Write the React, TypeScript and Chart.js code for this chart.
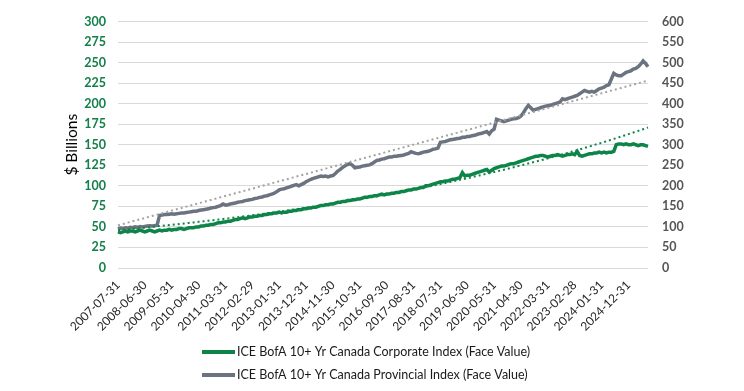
import { useEffect, useRef } from "react";
import { Chart, registerables } from "chart.js";

Chart.register(...registerables);

// Monthly month-end dates from 2007-07 to 2025-08
const startYear = 2007;
const startMonth = 7;
const monthCount = 218;

function buildCategories(): string[] {
  const out: string[] = [];
  for (let k = 0; k < monthCount; k++) {
    const m0 = startMonth - 1 + k;
    const y = startYear + Math.floor(m0 / 12);
    const m = (m0 % 12) + 1;
    const d = new Date(y, m, 0).getDate();
    out.push(`${y}-${String(m).padStart(2, "0")}-${String(d).padStart(2, "0")}`);
  }
  return out;
}
const categories = buildCategories();

const tickLabels = [
  "2007-07-31", "2008-06-30", "2009-05-31", "2010-04-30", "2011-03-31", "2012-02-29",
  "2013-01-31", "2013-12-31", "2014-11-30", "2015-10-31", "2016-09-30", "2017-08-31",
  "2018-07-31", "2019-06-30", "2020-05-31", "2021-04-30", "2022-03-31", "2023-02-28",
  "2024-01-31", "2024-12-31",
];

// ICE BofA 10+ Yr Canada Corporate Index (Face Value), $ billions (left axis)
const corporate = [
  44, 43, 44, 45, 44, 45,
  45, 44, 45, 46, 45, 44, 45, 46, 45, 44, 45, 46,
  45, 46, 46, 47, 46, 47, 47, 48, 48, 47, 48, 49,
  49, 49, 50, 50, 51, 51, 52, 52, 53, 53, 54, 55,
  55, 56, 56, 57, 57, 58, 59, 59, 60, 61, 60, 61,
  62, 62, 63, 63, 64, 64, 65, 65, 66, 66, 67, 67,
  68, 67, 68, 68, 69, 69, 70, 70, 71, 71, 72, 72,
  73, 73, 74, 74, 75, 76, 76, 77, 77, 78, 78, 79,
  80, 80, 81, 81, 82, 82, 83, 83, 84, 84, 85, 86,
  86, 87, 87, 88, 88, 89, 90, 89, 90, 90, 91, 91,
  92, 92, 93, 93, 94, 95, 95, 96, 96, 97, 98, 98,
  100, 100, 101, 102, 103, 104, 105, 105, 106, 106, 107, 108,
  108, 109, 110, 116, 112, 113, 113, 114, 115, 116, 117, 118,
  119, 120, 117, 119, 121, 122, 123, 124, 124, 125, 126, 127,
  127, 128, 129, 130, 131, 132, 133, 134, 135, 136, 136, 137,
  137, 136, 135, 136, 137, 137, 138, 137, 136, 137, 138, 138,
  139, 138, 142, 137, 136, 137, 138, 139, 139, 140, 140, 141,
  140, 141, 140, 141, 141, 142, 150, 151, 151, 150, 151, 150,
  150, 151, 150, 149, 150, 150, 149, 148,
];

// ICE BofA 10+ Yr Canada Provincial Index (Face Value), $ billions (right axis)
const provincial = [
  95, 97, 96, 98, 97, 99,
  98, 100, 99, 101, 100, 101, 102, 103, 102, 103, 104, 128,
  129, 130, 130, 131, 132, 131, 132, 133, 134, 134, 135, 136,
  137, 138, 138, 140, 141, 142, 143, 144, 146, 147, 148, 150,
  152, 156, 153, 154, 156, 157, 158, 160, 161, 162, 164, 165,
  166, 167, 169, 170, 172, 173, 175, 176, 178, 180, 182, 186,
  190, 192, 193, 195, 197, 199, 201, 203, 200, 203, 206, 210,
  213, 216, 218, 220, 222, 224, 223, 224, 222, 224, 225, 230,
  236, 240, 245, 249, 252, 254, 250, 244, 245, 246, 248, 249,
  250, 251, 254, 258, 262, 263, 265, 266, 268, 270, 270, 272,
  272, 273, 274, 275, 277, 279, 283, 281, 279, 278, 280, 282,
  283, 284, 286, 289, 290, 292, 306, 307, 308, 310, 312, 313,
  314, 315, 316, 318, 318, 320, 320, 322, 323, 325, 327, 328,
  330, 332, 326, 334, 338, 362, 360, 358, 356, 358, 360, 362,
  363, 364, 366, 370, 378, 388, 396, 390, 384, 386, 388, 390,
  392, 394, 395, 396, 398, 400, 402, 404, 412, 410, 412, 414,
  416, 418, 420, 424, 428, 432, 430, 428, 430, 428, 432, 436,
  438, 440, 444, 446, 460, 474, 470, 468, 468, 472, 476, 478,
  480, 484, 486, 490, 496, 504, 498, 490,
];

// Trendline values at the first and last month
const corporateTrendEnds = [46, 171]; // exponential trendline (left axis)
const provincialTrendEnds = [104, 456]; // linear trendline (right axis)

const seriesLabels = [
  "ICE BofA 10+ Yr Canada Corporate Index (Face Value)",
  "ICE BofA 10+ Yr Canada Provincial Index (Face Value)",
];

const GREEN = "#0e8548";
const GREEN_TICK = "#138049";
const GRAY = "#6b7380";
const GRAY_TREND = "#a3a3a3";

function linearTrend(ends: number[], n: number): number[] {
  const [a, b] = ends;
  return Array.from({ length: n }, (_, i) => a + ((b - a) * i) / (n - 1));
}
function expTrend(ends: number[], n: number): number[] {
  const [a, b] = ends;
  const r = Math.log(b / a) / (n - 1);
  return Array.from({ length: n }, (_, i) => a * Math.exp(r * i));
}

const legendPlugin = {
  id: "stackedLegend",
  afterDraw(chart: any) {
    const ctx = chart.ctx;
    const rows = [352, 375];
    ctx.save();
    chart.data.datasets.slice(0, 2).forEach((ds: any, k: number) => {
      const y = rows[k];
      ctx.strokeStyle = ds.borderColor;
      ctx.lineWidth = 4;
      ctx.beginPath();
      ctx.moveTo(202, y);
      ctx.lineTo(235, y);
      ctx.stroke();
      ctx.fillStyle = "#1a1a1a";
      ctx.font = "12.5px Lato";
      ctx.textBaseline = "middle";
      ctx.textAlign = "left";
      ctx.fillText(ds.label, 237, y);
    });
    ctx.restore();
  },
};

export default function App() {
  const ref = useRef<HTMLCanvasElement | null>(null);

  useEffect(() => {
    if (!ref.current) return;
    const chart = new Chart(ref.current, {
      type: "line",
      data: {
        labels: categories,
        datasets: [
          {
            label: seriesLabels[0],
            data: corporate,
            yAxisID: "y",
            borderColor: GREEN,
            borderWidth: 3.5,
            pointRadius: 0,
            tension: 0,
            order: 2,
          },
          {
            label: seriesLabels[1],
            data: provincial,
            yAxisID: "y1",
            borderColor: GRAY,
            borderWidth: 3.5,
            pointRadius: 0,
            tension: 0,
            order: 2,
          },
          {
            label: "trend corporate",
            data: expTrend(corporateTrendEnds, corporate.length),
            yAxisID: "y",
            borderColor: GREEN,
            borderWidth: 2,
            borderDash: [2, 3],
            pointRadius: 0,
            order: 1,
          },
          {
            label: "trend provincial",
            data: linearTrend(provincialTrendEnds, provincial.length),
            yAxisID: "y1",
            borderColor: GRAY_TREND,
            borderWidth: 2,
            borderDash: [2, 3],
            pointRadius: 0,
            order: 1,
          },
        ],
      },
      options: {
        responsive: false,
        animation: false,
        layout: { padding: { top: 14, left: 0, right: 0, bottom: 0 } },
        plugins: { legend: { display: false }, tooltip: { enabled: false } },
        scales: {
          x: {
            type: "category",
            grid: { display: false },
            border: { display: false },
            ticks: {
              autoSkip: false,
              maxRotation: 45,
              minRotation: 45,
              padding: 2,
              color: "#262626",
              font: { family: "Lato", size: 12 },
              callback: (_v: any, i: number) =>
                tickLabels.includes(categories[i]) ? categories[i] : "",
            },
            afterFit: (s: any) => { s.height = 123; },
          },
          y: {
            position: "left",
            min: 0,
            max: 300,
            ticks: {
              stepSize: 25,
              padding: 12,
              color: GREEN_TICK,
              font: { family: "Lato", size: 12.5, weight: "bold" },
            },
            grid: { color: "#d9d9d9", drawTicks: false },
            border: { display: false },
            title: {
              display: true,
              text: "$ Billions",
              color: "#000000",
              font: { family: "Lato", size: 15.5 },
              padding: { top: 63, bottom: 0 },
            },
            afterFit: (s: any) => { s.width = 118; },
          },
          y1: {
            position: "right",
            min: 0,
            max: 600,
            ticks: {
              stepSize: 50,
              padding: 14,
              color: "#555555",
              font: { family: "Lato", size: 12.5, weight: "bold" },
            },
            grid: { display: false, drawTicks: false },
            border: { display: false },
            afterFit: (s: any) => { s.width = 96; },
          },
        },
      },
      plugins: [legendPlugin],
    });
    return () => chart.destroy();
  }, []);

  return (
    <div style={{ position: "absolute", left: 0, top: 0, width: 744, height: 391, background: "#ffffff" }}>
      <canvas ref={ref} width={744} height={391} style={{ display: "block" }} />
    </div>
  );
}
